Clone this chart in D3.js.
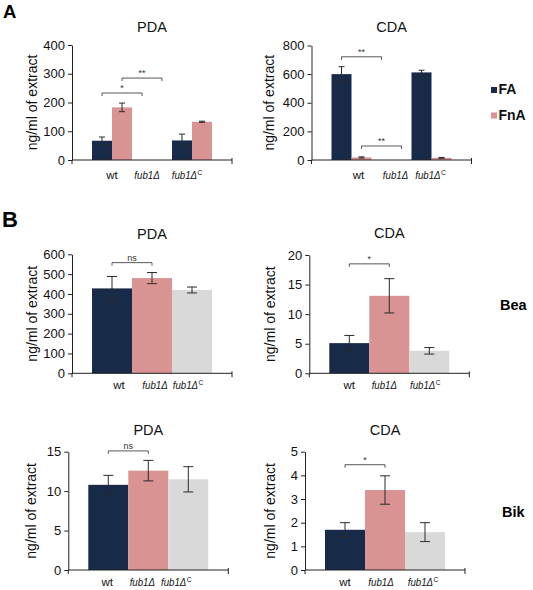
<!DOCTYPE html>
<html><head><meta charset="utf-8">
<script src="https://cdn.jsdelivr.net/npm/d3@7"></script>
<style>body{margin:0;background:#fff}svg{display:block;font-family:"Liberation Sans",Arial,sans-serif}</style>
</head><body><svg id="c" width="533" height="590"></svg>
<script>
// ---- data ----
const categories = ["wt", "fub1Δ", "fub1ΔC"];
const seriesNames = ["FA", "FnA"];
// Panel A (FA / FnA)
const aPdaFA = [67, null, 68];
const aPdaFAErr = [13, null, 22];
const aPdaFnA = [183, null, 133];
const aPdaFnAErr = [15, null, 2];
const aCdaFA = [600, null, 612];
const aCdaFAErr = [52, null, 15];
const aCdaFnA = [18, null, 15];
const aCdaFnAErr = [4, null, 3];
// Panel B (Bea / Bik)
const beaPda = [428, 480, 420];
const beaPdaErr = [60, 28, 15];
const beaCda = [5.1, 13.1, 3.8];
const beaCdaErr = [1.3, 2.9, 0.55];
const bikPda = [10.8, 12.6, 11.5];
const bikPdaErr = [1.2, 1.3, 1.6];
const bikCda = [1.7, 3.38, 1.6];
const bikCdaErr = [0.3, 0.6, 0.4];
// tick labels
const aPdaTicks = [0, 100, 200, 300, 400];
const aCdaTicks = [0, 200, 400, 600, 800];
const beaPdaTicks = [0, 100, 200, 300, 400, 500, 600];
const beaCdaTicks = [0, 5, 10, 15, 20];
const bikPdaTicks = [0, 5, 10, 15];
const bikCdaTicks = [0, 1, 2, 3, 4, 5];
// significance: [fromCat, fromSeries, toCat, toSeries, level, label]
const aPdaSig = [[0, 0, 1, 0, 233, "*"], [0, 1, 1, 1, 285, "**"]];
const aCdaSig = [[0, 0, 1, 0, 721, "**"], [0, 1, 1, 1, 98, "**"]];
const beaPdaSig = [[0, 0, 1, 0, 558, "ns"]];
const beaCdaSig = [[0, 0, 1, 0, 18.5, "*"]];
const bikPdaSig = [[0, 0, 1, 0, 15.1, "ns"]];
const bikCdaSig = [[0, 0, 1, 0, 4.45, "*"]];

// ---- styles ----
const NAVY = "#172a48", PINK = "#d99392", GRAY = "#d9d9d9", INK = "#222";
const seriesColors = [NAVY, PINK];
const catColors = [NAVY, PINK, GRAY];

const svg = d3.select("#c");

function panel(o) {
  const g = svg.append("g");
  const y = d3.scaleLinear().domain([0, o.ticks[o.ticks.length - 1]]).range([o.y0, o.yTop]);
  const x = d3.scaleBand().domain(categories).range([o.ax + 20, o.ax + 140]).paddingInner(0).paddingOuter(0);
  const sub = d3.scaleBand().domain(d3.range(o.series.length)).range([0, x.bandwidth()]);
  const cx = (ci, si) => x(categories[ci]) + sub(si) + sub.bandwidth() / 2;

  // bars
  o.series.forEach((s, si) => {
    const rows = categories.map((c, ci) => ({ c, ci, v: s.vals[ci], e: s.errs[ci] })).filter(d => d.v != null);
    g.selectAll(null).data(rows).enter().append("rect")
      .attr("x", d => x(d.c) + sub(si)).attr("width", sub.bandwidth())
      .attr("y", d => y(d.v)).attr("height", d => y(0) - y(d.v))
      .attr("fill", d => o.colorBy === "cat" ? catColors[d.ci] : seriesColors[si]);
    const cw = o.cap;
    rows.forEach(d => {
      const xc = x(d.c) + sub(si) + sub.bandwidth() / 2;
      const eg = g.append("g").attr("stroke", "#2a2a2a").attr("stroke-width", 1);
      eg.append("line").attr("x1", xc).attr("x2", xc).attr("y1", y(d.v + d.e)).attr("y2", y(d.v - d.e));
      eg.append("line").attr("x1", xc - cw).attr("x2", xc + cw).attr("y1", y(d.v + d.e)).attr("y2", y(d.v + d.e));
      eg.append("line").attr("x1", xc - cw).attr("x2", xc + cw).attr("y1", y(d.v - d.e)).attr("y2", y(d.v - d.e));
    });
  });

  // y axis
  const ya = d3.axisLeft(y).tickValues(o.ticks).tickFormat(d3.format("d")).tickSize(4).tickSizeOuter(0).tickPadding(3);
  const yg = g.append("g").attr("transform", `translate(${o.ax},0)`).call(ya);
  yg.select(".domain").attr("stroke", INK);
  yg.selectAll(".tick line").attr("stroke", INK);
  yg.selectAll(".tick text").attr("font-size", 13).attr("fill", "#111").attr("font-family", "Liberation Sans, Arial, sans-serif");

  // x axis line
  g.append("line").attr("x1", o.ax).attr("x2", o.ax + 160).attr("y1", o.y0).attr("y2", o.y0).attr("stroke", INK);
  g.append("line").attr("x1", o.ax + 160).attr("x2", o.ax + 160).attr("y1", o.y0 - 2).attr("y2", o.y0 + 4).attr("stroke", INK);
  g.append("line").attr("x1", o.ax).attr("x2", o.ax).attr("y1", o.y0).attr("y2", o.y0 + 4).attr("stroke", INK);

  // category labels (italic mutant names slightly condensed, as in the figure)
  categories.forEach((c, ci) => {
    const xc = x(c) + x.bandwidth() / 2 + o.labDx[ci];
    const yb = o.y0 + o.labDy;
    if (ci === 0) {
      g.append("text").attr("x", xc).attr("y", yb).attr("text-anchor", "middle")
        .attr("font-size", 11.5).attr("fill", "#111").text(c);
    } else {
      const hasC = c.endsWith("C");
      const base = hasC ? c.slice(0, -1) : c;
      const lg = g.append("g").attr("transform", `translate(${xc},${yb}) scale(0.84,1)`);
      const t = lg.append("text").attr("text-anchor", "middle").attr("font-size", 11.5).attr("fill", "#111");
      t.append("tspan").attr("font-style", "italic").text(base);
      if (hasC) t.append("tspan").attr("font-size", 8).attr("dx", 0.5).attr("dy", -4.5).text("C");
    }
  });

  // title
  g.append("text").attr("x", o.ax + 80).attr("y", o.titleY).attr("text-anchor", "middle")
    .attr("font-size", 14.5).attr("fill", "#111").text(o.title);

  // y label
  g.append("text").attr("transform", `translate(${o.ax - o.ylabOff},${(o.y0 + o.yTop) / 2}) rotate(-90)`)
    .attr("text-anchor", "middle").attr("font-size", 14).attr("fill", "#111").text("ng/ml of extract");

  // significance brackets
  o.sig.forEach(sg => {
    const x1 = cx(sg[0], sg[1]), x2 = cx(sg[2], sg[3]), yy = y(sg[4]);
    g.append("path").attr("d", `M${x1},${yy + 3}V${yy}H${x2}V${yy + 3}`)
      .attr("fill", "none").attr("stroke", "#444").attr("stroke-width", 0.9);
    g.append("text").attr("x", (x1 + x2) / 2).attr("y", yy - 2).attr("text-anchor", "middle")
      .attr("font-size", 9).attr("fill", "#333").text(sg[5]);
  });
}

panel({ ax: 72, y0: 160, yTop: 45, ticks: aPdaTicks, title: "PDA", titleY: 32, labDy: 19, ylabOff: 35, cap: 3,
  labDx: [0, -5, -5],
  series: [{ vals: aPdaFA, errs: aPdaFAErr }, { vals: aPdaFnA, errs: aPdaFnAErr }], colorBy: "series", sig: aPdaSig });
panel({ ax: 311.5, y0: 160, yTop: 45.5, ticks: aCdaTicks, title: "CDA", titleY: 32, labDy: 19, ylabOff: 38, cap: 3,
  labDx: [7, 4, -1],
  series: [{ vals: aCdaFA, errs: aCdaFAErr }, { vals: aCdaFnA, errs: aCdaFnAErr }], colorBy: "series", sig: aCdaSig });
panel({ ax: 72, y0: 373.3, yTop: 254.3, ticks: beaPdaTicks, title: "PDA", titleY: 239, labDy: 16, ylabOff: 35, cap: 5,
  labDx: [7, 3, -4],
  series: [{ vals: beaPda, errs: beaPdaErr }], colorBy: "cat", sig: beaPdaSig });
panel({ ax: 309.3, y0: 373.3, yTop: 255, ticks: beaCdaTicks, title: "CDA", titleY: 238, labDy: 16, ylabOff: 34, cap: 5,
  labDx: [0, -5, -4],
  series: [{ vals: beaCda, errs: beaCdaErr }], colorBy: "cat", sig: beaCdaSig });
panel({ ax: 68.3, y0: 570, yTop: 451.7, ticks: bikPdaTicks, title: "PDA", titleY: 435, labDy: 16, ylabOff: 32, cap: 5,
  labDx: [-1, -6, -12],
  series: [{ vals: bikPda, errs: bikPdaErr }], colorBy: "cat", sig: bikPdaSig });
panel({ ax: 305, y0: 570, yTop: 451.7, ticks: bikCdaTicks, title: "CDA", titleY: 435, labDy: 16, ylabOff: 30, cap: 5,
  labDx: [0, -4, -2],
  series: [{ vals: bikCda, errs: bikCdaErr }], colorBy: "cat", sig: bikCdaSig });

// legend
seriesNames.forEach((n, i) => {
  svg.append("rect").attr("x", 491).attr("y", 87 + i * 25.5).attr("width", 6).attr("height", 6).attr("fill", seriesColors[i]);
  svg.append("text").attr("x", 498.5).attr("y", 94 + i * 25.5).attr("font-size", 14).attr("font-weight", "bold")
    .attr("fill", "#111").text(n);
});
// panel letters and row labels
svg.append("text").attr("x", 3).attr("y", 18).attr("font-size", 18.5).attr("font-weight", "bold").text("A");
svg.append("text").attr("x", 2).attr("y", 227).attr("font-size", 22).attr("font-weight", "bold").text("B");
svg.append("text").attr("x", 500).attr("y", 310).attr("font-size", 14.5).attr("font-weight", "bold").text("Bea");
svg.append("text").attr("x", 502).attr("y", 517).attr("font-size", 14.5).attr("font-weight", "bold").text("Bik");
</script></body></html>
